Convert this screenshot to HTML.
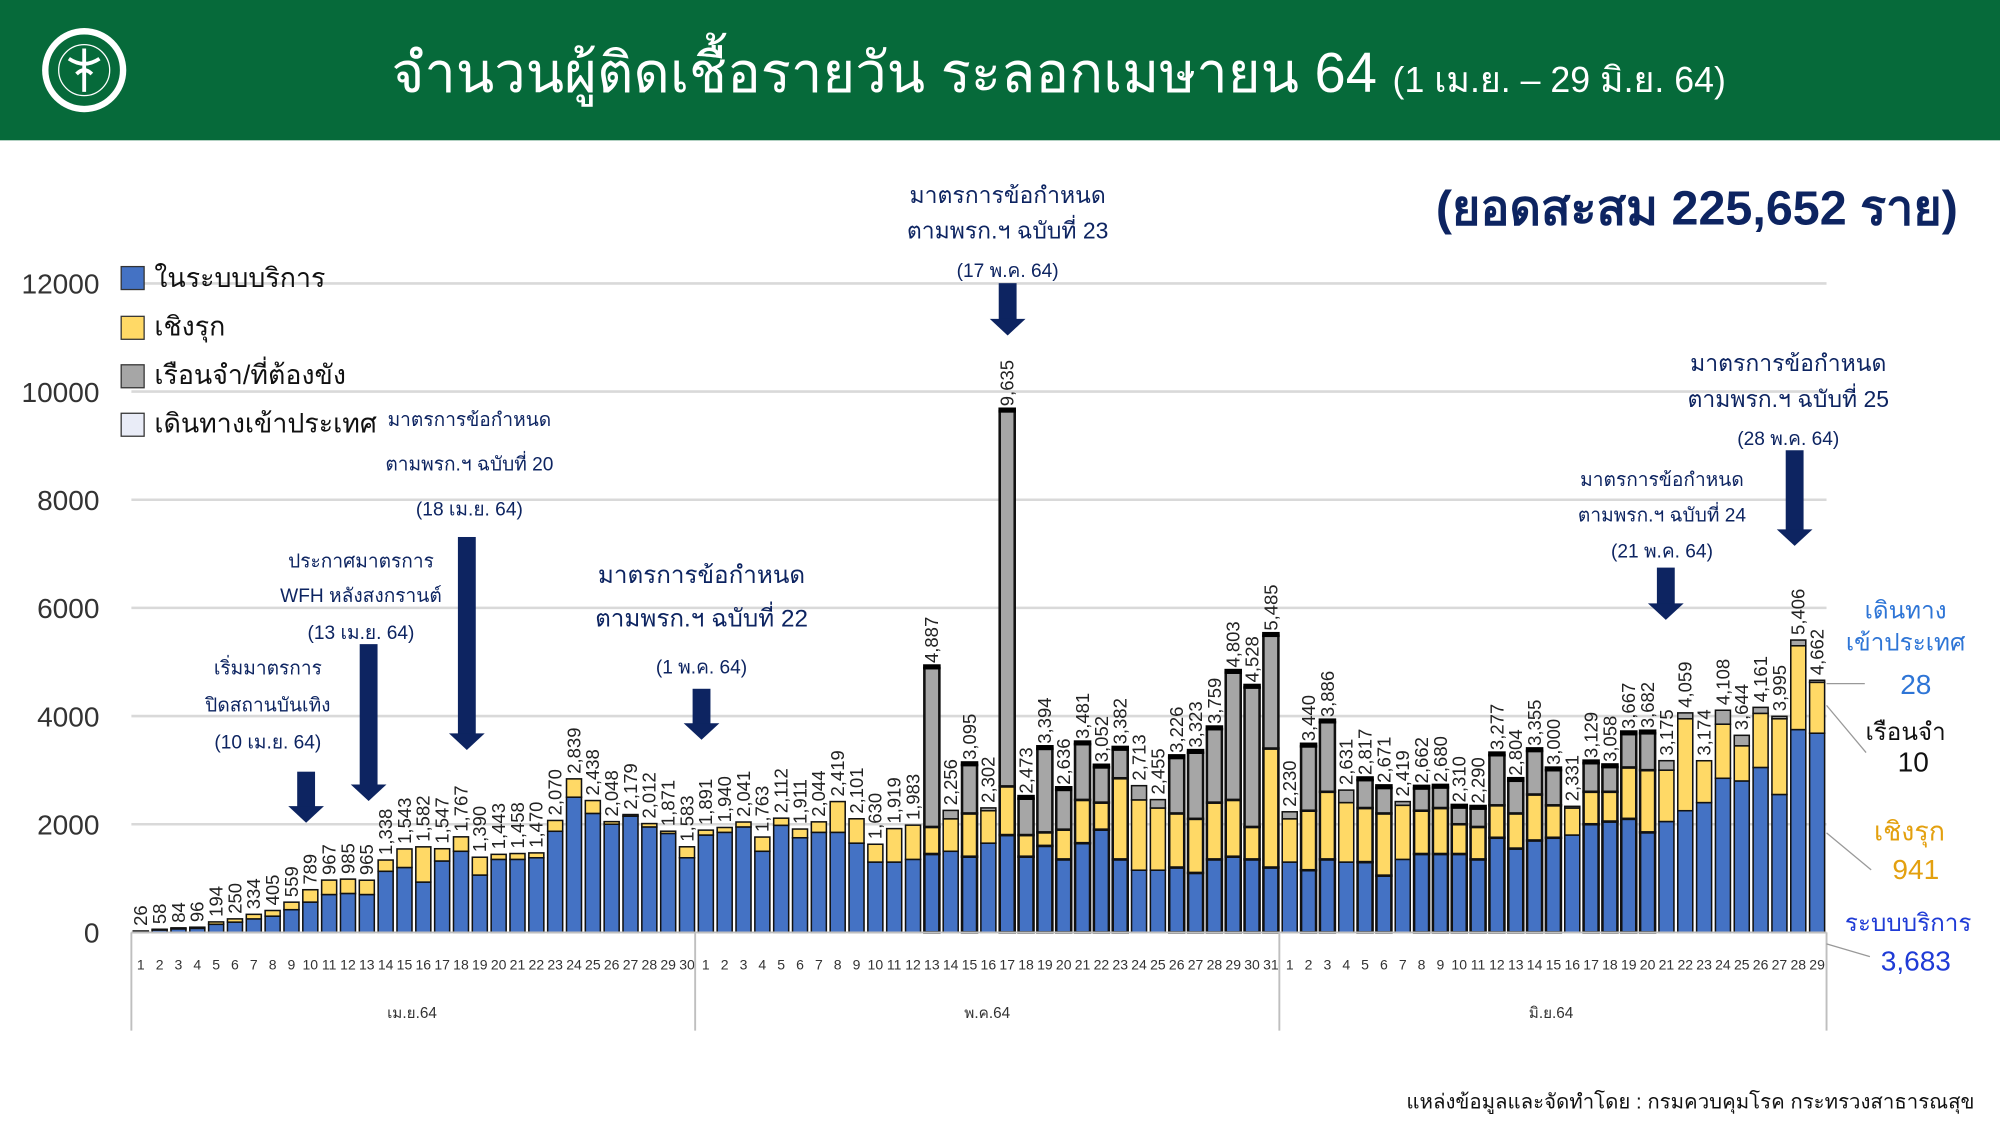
<!DOCTYPE html>
<html><head><meta charset="utf-8">
<style>
html,body{margin:0;padding:0;background:#fff;}
svg{display:block;font-family:"Liberation Sans","DejaVu Sans","Noto Sans CJK SC",sans-serif;}
</style></head><body>
<svg id="s" width="2000" height="1125" viewBox="0 0 1568 882" xmlns="http://www.w3.org/2000/svg">
<rect x="0" y="0" width="1568" height="110" fill="#066a3a"/>
<circle cx="66" cy="55" r="33" fill="#fff"/>
<circle cx="66" cy="55" r="29" fill="#066a3a" stroke="#fff" stroke-width="2"/>
<circle cx="66" cy="55" r="20" fill="#066a3a" stroke="#fff" stroke-width="1"/>
<path d="M66 38 L66 72 M54 46 Q66 54 78 46 M60 58 Q66 52 72 58" stroke="#fff" stroke-width="3" fill="none"/>
<text x="830" y="72" fill="#fff" font-size="44" text-anchor="middle">จำนวนผู้ติดเชื้อรายวัน ระลอกเมษายน 64 <tspan font-size="28">(1 เม.ย. – 29 มิ.ย. 64)</tspan></text>
<text x="1535" y="176" fill="#0d2461" font-size="38" font-weight="bold" text-anchor="end">(ยอดสะสม 225,652 ราย)</text>
<g id="grid" stroke="#d9d9d9" stroke-width="2"></g>
<g id="yl" font-size="22" fill="#333" text-anchor="end"></g>
<g id="bars"></g>
<g id="vals" font-size="14.5" fill="#222"></g>
<g id="days" font-size="11" fill="#333" text-anchor="middle"></g>
<g stroke="#bfbfbf" stroke-width="1.5">
<line x1="103" y1="731" x2="1432" y2="731"/>
<line x1="103" y1="731" x2="103" y2="808"/><line x1="545" y1="731" x2="545" y2="808"/>
<line x1="1003" y1="731" x2="1003" y2="808"/><line x1="1432" y1="731" x2="1432" y2="808"/>
</g>
<g font-size="12" fill="#333" text-anchor="middle">
<text x="323" y="798">เม.ย.64</text><text x="774" y="798">พ.ค.64</text><text x="1216" y="798">มิ.ย.64</text>
</g>
<g font-size="21" fill="#111">
<rect x="95" y="209" width="18" height="18" fill="#4472c4" stroke="#333"/><text x="121" y="225">ในระบบบริการ</text>
<rect x="95" y="248" width="18" height="18" fill="#ffd966" stroke="#333"/><text x="121" y="263">เชิงรุก</text>
<rect x="95" y="286" width="18" height="18" fill="#a6a6a6" stroke="#333"/><text x="121" y="301">เรือนจำ/ที่ต้องขัง</text>
<rect x="95" y="324" width="18" height="18" fill="#e9ecf7" stroke="#333"/><text x="121" y="339">เดินทางเข้าประเทศ</text>
</g>
<g fill="#0d2461" font-size="15" text-anchor="middle">
<text x="210" y="529">เริ่มมาตรการ</text><text x="210" y="558">ปิดสถานบันเทิง</text><text x="210" y="587">(10 เม.ย. 64)</text>
<text x="283" y="445">ประกาศมาตรการ</text><text x="283" y="472">WFH หลังสงกรานต์</text><text x="283" y="501">(13 เม.ย. 64)</text>
<text x="368" y="334">มาตรการข้อกำหนด</text><text x="368" y="369">ตามพรก.ฯ ฉบับที่ 20</text><text x="368" y="404">(18 เม.ย. 64)</text>
<text x="550" y="457" font-size="19">มาตรการข้อกำหนด</text><text x="550" y="491" font-size="19">ตามพรก.ฯ ฉบับที่ 22</text><text x="550" y="528">(1 พ.ค. 64)</text>
<text x="790" y="159" font-size="18">มาตรการข้อกำหนด</text><text x="790" y="187" font-size="18">ตามพรก.ฯ ฉบับที่ 23</text><text x="790" y="217">(17 พ.ค. 64)</text>
<text x="1303" y="381">มาตรการข้อกำหนด</text><text x="1303" y="409">ตามพรก.ฯ ฉบับที่ 24</text><text x="1303" y="437">(21 พ.ค. 64)</text>
<text x="1402" y="291" font-size="18">มาตรการข้อกำหนด</text><text x="1402" y="319" font-size="18">ตามพรก.ฯ ฉบับที่ 25</text><text x="1402" y="349">(28 พ.ค. 64)</text>
</g>
<g id="arrows" fill="#0d2461"></g>
<g text-anchor="middle">
<text x="1494" y="485" font-size="19" fill="#2e75d6">เดินทาง</text>
<text x="1494" y="510" font-size="19" fill="#2e75d6">เข้าประเทศ</text>
<text x="1502" y="544" font-size="22" fill="#2e75d6">28</text>
<text x="1494" y="580" font-size="19" fill="#111">เรือนจำ</text>
<text x="1500" y="605" font-size="22" fill="#111">10</text>
<text x="1497" y="659" font-size="21" fill="#e3a00f">เชิงรุก</text>
<text x="1502" y="689" font-size="22" fill="#e3a00f">941</text>
<text x="1496" y="730" font-size="19" fill="#1f3bd6">ระบบบริการ</text>
<text x="1502" y="761" font-size="22" fill="#1f3bd6">3,683</text>
</g>
<g stroke="#999" stroke-width="1" fill="none">
<path d="M1432 536 L1462 536"/><path d="M1432 553 L1463 590"/><path d="M1432 653 L1467 682"/><path d="M1432 740 L1466 750"/>
</g>
<text x="1548" y="869" font-size="16" fill="#111" text-anchor="end">แหล่งข้อมูลและจัดทำโดย : กรมควบคุมโรค กระทรวงสาธารณสุข</text>
</svg>
<script>
var T=[26,58,84,96,194,250,334,405,559,789,967,985,965,1338,1543,1582,1547,1767,1390,1443,1458,1470,2070,2839,2438,2048,2179,2012,1871,1583,
1891,1940,2041,1763,2112,1911,2044,2419,2101,1630,1919,1983,4887,2256,3095,2302,9635,2473,3394,2636,3481,3052,3382,2713,2455,3226,2455,3323,3759,4803,4528,5485,
2230,3440,3886,2631,2817,2671,2419,2662,2680,2310,2290,3277,2804,3355,3000,2331,3129,3058,3667,3682,3175,4059,3174,4108,3644,4161,3995,5406,4662];
T.splice(56,1);
var B=[20,45,65,75,150,190,250,300,420,560,700,720,700,1130,1200,930,1320,1500,1060,1350,1350,1380,1870,2500,2200,2000,2150,1950,1830,1380,
1800,1850,1950,1500,1980,1750,1850,1850,1650,1300,1300,1350,1450,1500,1400,1650,1800,1400,1600,1350,1650,1900,1350,1150,1150,1200,1100,1350,1400,1350,1200,
1300,1150,1350,1300,1300,1050,1350,1450,1450,1450,1350,1750,1550,1700,1750,1800,2000,2050,2100,1850,2050,2250,2400,2850,2800,3050,2550,3750,3683];
var Y=[6,13,19,21,44,60,84,105,139,229,267,265,265,208,343,652,227,267,330,93,108,90,200,339,238,48,29,62,41,203,
91,90,91,263,132,161,194,569,451,330,619,633,500,600,800,600,900,400,250,550,800,500,1500,1300,1150,1000,1000,1050,1050,600,2200,
800,1100,1250,1100,1000,1150,1000,800,850,550,600,600,650,850,600,500,600,550,950,1150,950,1700,850,1000,650,1000,1400,1550,941];
var ns="http://www.w3.org/2000/svg";
function el(p,t,a,txt){var e=document.createElementNS(ns,t);for(var k in a)e.setAttribute(k,a[k]);if(txt!=null)e.textContent=txt;document.getElementById(p).appendChild(e);return e;}
var y0=731,k=84.8/2000,x0=103,w=1329/90;
for(var v=2000;v<=12000;v+=2000){var yy=y0-v*k;el('grid','line',{x1:x0,y1:yy,x2:1432,y2:yy});}
for(var v=0;v<=12000;v+=2000){el('yl','text',{x:78,y:y0-v*k+8},String(v));}
for(var i=0;i<90;i++){
 var t=T[i],b=Math.min(B[i],t),yv=Math.min(Y[i],t-b),g=Math.max(0,t-b-yv);
 var bx=x0+i*w+1.5,bw=w-3,yb=y0;
 var segs=[[b,'#4472c4'],[yv,'#ffd966'],[g,'#a6a6a6']];
 for(var j=0;j<3;j++){var h=segs[j][0]*k;if(h<=0)continue;el('bars','rect',{x:bx,y:yb-h,width:bw,height:h,fill:segs[j][1],stroke:'#111','stroke-width':g>300?2:1.2});yb-=h;}
 if(g>300){el('bars','rect',{x:bx-1,y:yb-3,width:bw+2,height:4,fill:'#000'});}
 var cx=x0+i*w+w/2+5,ty=y0-t*k-4;
 el('vals','text',{x:cx,y:ty,transform:'rotate(-90 '+cx+' '+ty+')'},t.toLocaleString('en-US'));
 var d=i<30?i+1:(i<61?i-29:i-60);
 el('days','text',{x:x0+i*w+w/2,y:760},String(d));
}
function arrow(x,y1,y2){el('arrows','rect',{x:x-7,y:y1,width:14,height:y2-y1-12});el('arrows','path',{d:'M'+(x-14)+' '+(y2-13)+' L'+(x+14)+' '+(y2-13)+' L'+x+' '+y2+' Z'});}
arrow(240,605,645);arrow(289,505,628);arrow(366,421,588);arrow(550,540,580);arrow(790,222,263);arrow(1306,445,486);arrow(1407,353,428);
</script>
</body></html>
